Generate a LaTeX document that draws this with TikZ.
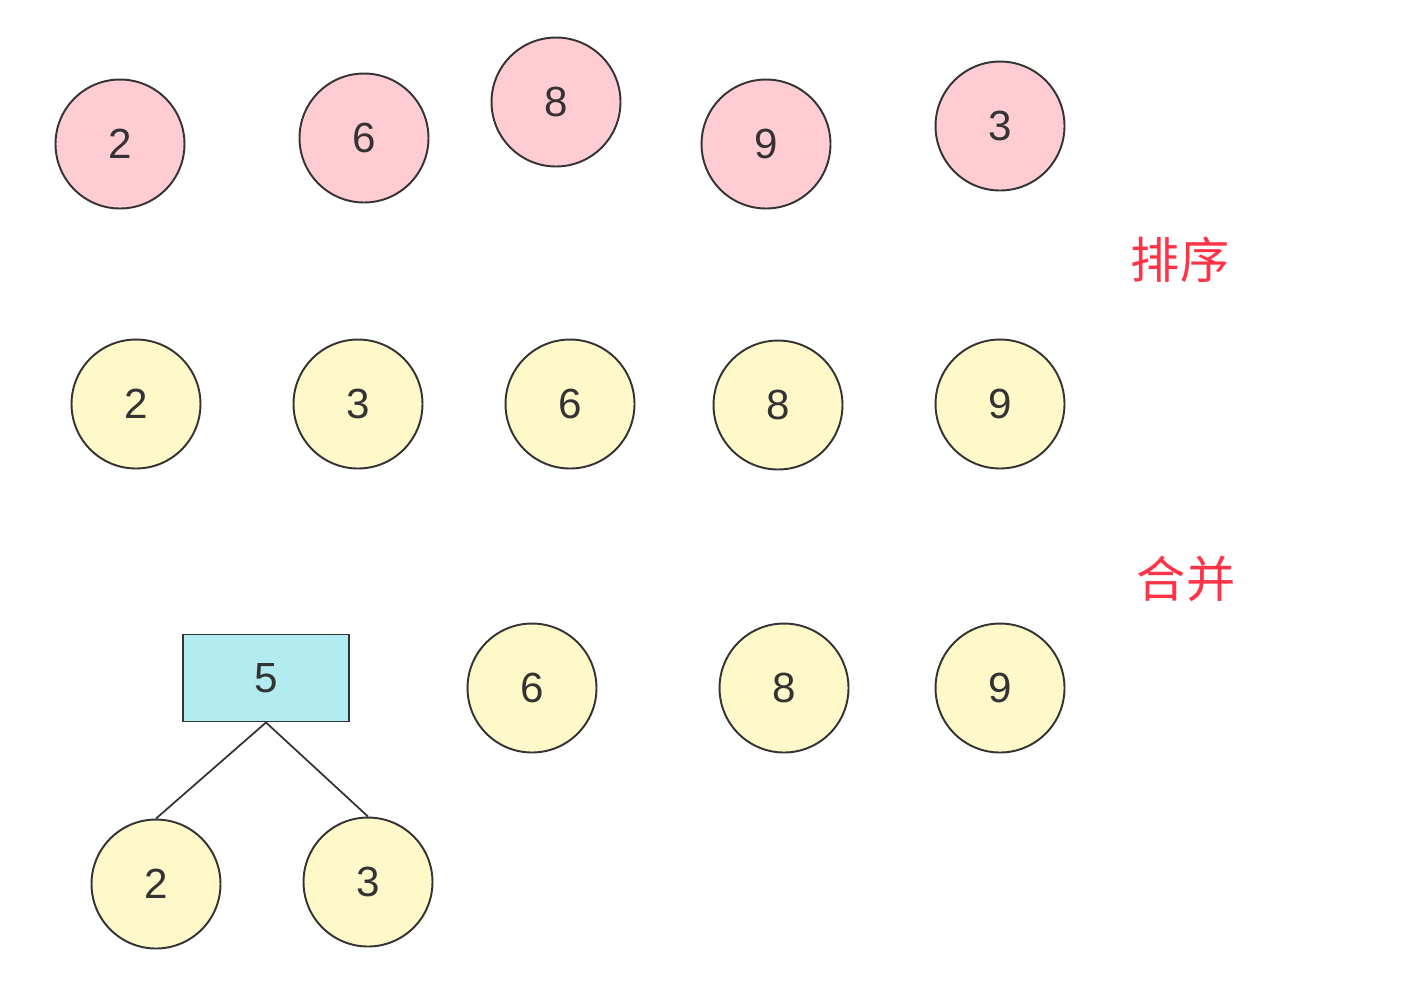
\documentclass[tikz,border=0pt]{standalone}
\usepackage{fontspec}
\setmainfont{Liberation Sans}
\newfontfamily\cjk{Noto Sans CJK SC}
\usepackage{tikz}
\definecolor{pinkfill}{HTML}{FFCCD3}
\definecolor{yellowfill}{HTML}{FFF9CA}
\definecolor{cyanfill}{HTML}{B2EBF0}
\definecolor{edgegray}{HTML}{333333}
\definecolor{notered}{HTML}{FF3347}

\begin{document}
\begin{tikzpicture}[x=0.02cm, y=-0.02cm,
pinknum/.style={circle, draw=edgegray, line width=1.1pt, fill=pinkfill, minimum size=2.58cm, inner sep=0pt, font=\fontsize{24}{28}\selectfont, text=edgegray},
yellownum/.style={pinknum, fill=yellowfill},
sumbox/.style={draw=edgegray, line width=1.1pt, fill=cyanfill, minimum width=3.32cm, minimum height=1.74cm, font=\fontsize{24}{28}\selectfont, text=edgegray},
note/.style={text=notered, font=\cjk\fontsize{28}{32}\selectfont}]
\useasboundingbox (0,0) rectangle (1408,1002);
% unsorted
\node[pinknum] (a2) at (120,144) {2};
\node[pinknum] (a6) at (364,138) {6};
\node[pinknum] (a8) at (556,102) {8};
\node[pinknum] (a9) at (766,144) {9};
\node[pinknum] (a3) at (1000,126) {3};
\node[note] (sortlabel) at (1180,260) {排序};
% sorted
\node[yellownum] (b2) at (136,404) {2};
\node[yellownum] (b3) at (358,404) {3};
\node[yellownum] (b6) at (570,404) {6};
\node[yellownum] (b8) at (778,405) {8};
\node[yellownum] (b9) at (1000,404) {9};
\node[note] (mergelabel) at (1186,579) {合并};
% merged
\node[sumbox] (c5) at (266,678) {5};
\node[yellownum] (c6) at (532,688) {6};
\node[yellownum] (c8) at (784,688) {8};
\node[yellownum] (c9) at (1000,688) {9};
\node[yellownum] (d2) at (156,884) {2};
\node[yellownum] (d3) at (368,882) {3};
\draw[edgegray, line width=1pt] (c5.south) -- (d2.north);
\draw[edgegray, line width=1pt] (c5.south) -- (d3.north);
\end{tikzpicture}
\end{document}
